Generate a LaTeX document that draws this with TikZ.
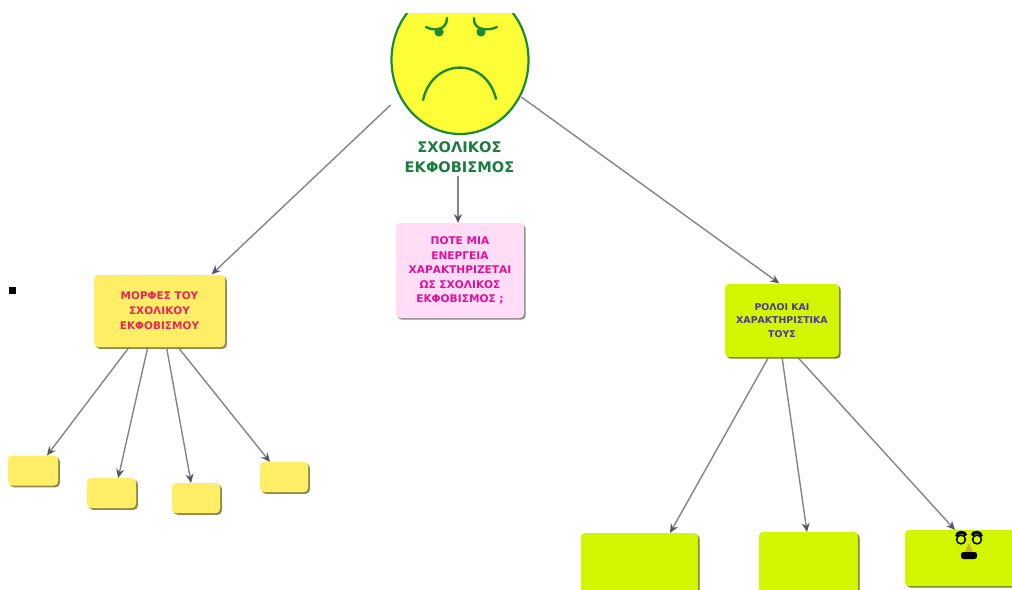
\documentclass[tikz,border=0pt]{standalone}
\usepackage{fontspec}
\setmainfont{DejaVu Sans}
\usetikzlibrary{arrows.meta,shadows,shapes.geometric}
\definecolor{conncol}{HTML}{858585}
\definecolor{tipcol}{HTML}{55585F}
\definecolor{facegreen}{HTML}{1F8A35}
\definecolor{faceyellow}{HTML}{FFFF38}
\definecolor{labelgreen}{HTML}{1E7B3F}
\definecolor{yellowfill}{HTML}{FFEE66}
\definecolor{yellowshadow}{HTML}{8F8A50}
\definecolor{limefill}{HTML}{D2F500}
\definecolor{limeshadow}{HTML}{74822A}
\definecolor{pinkfill}{HTML}{FFDDF6}
\definecolor{pinkshadow}{HTML}{8E8A90}
\definecolor{crimsontext}{HTML}{E8265A}
\definecolor{magentatext}{HTML}{E0109A}
\definecolor{violettext}{HTML}{4A3AA0}
\tikzset{
  x=1pt,y=-1pt,
  boxbase/.style={rectangle,rounded corners=4pt,inner sep=0pt,outer sep=0pt,align=center,
    font=\fontsize{10.6}{14.5}\selectfont\bfseries},
  yellowbox/.style={boxbase,fill=yellowfill,
    general shadow={shadow xshift=1.8pt,shadow yshift=-1.8pt,fill=yellowshadow}},
  limebox/.style={boxbase,fill=limefill,
    general shadow={shadow xshift=1.6pt,shadow yshift=-1.6pt,fill=limeshadow}},
  pinkbox/.style={boxbase,fill=pinkfill,
    general shadow={shadow xshift=1.6pt,shadow yshift=-1.6pt,fill=pinkshadow}},
  conn/.style={draw=conncol,line width=1.4pt,
    -{Stealth[length=9pt,width=8pt,color=tipcol]}},
  facefeature/.style={draw=facegreen,line width=2.4pt,line cap=round},
}
\begin{document}
\begin{tikzpicture}
\clip (0,0) rectangle (1012,589);
\fill[white] (0,0) rectangle (1012,589);

% face, cut off at the top
\begin{scope}
  \clip (300,13) rectangle (620,200);
  \node[ellipse,draw=facegreen,line width=2.2pt,fill=faceyellow,minimum width=137pt,minimum height=148pt,
        inner sep=0pt,outer sep=0pt] (face) at (460,60) {};
\end{scope}
\draw[facefeature] (426,27) .. controls (433,31) and (447,31) .. (447,18);
\draw[facefeature] (497,27) .. controls (489,31) and (473,31) .. (474,18);
\fill[facegreen] (439,32) circle (4.6);
\fill[facegreen] (481,32) circle (4.6);
\draw[facefeature] (423,100) .. controls (433,57) and (486,57) .. (496,99);

\node[font=\fontsize{14.6}{20}\selectfont\bfseries,text=labelgreen,align=center,inner sep=0pt,outer sep=0pt]
  (lbl) at (459.5,157) {ΣΧΟΛΙΚΟΣ\\ΕΚΦΟΒΙΣΜΟΣ};

% boxes
\node[yellowbox,minimum width=131pt,minimum height=72pt,text=crimsontext,font=\fontsize{10.5}{15}\selectfont\bfseries] (mor) at (159.5,311) {ΜΟΡΦΕΣ ΤΟΥ\\ΣΧΟΛΙΚΟΥ\\ΕΚΦΟΒΙΣΜΟΥ};
\node[pinkbox,minimum width=128pt,minimum height=95pt,text=magentatext] (pote) at (460,270.5) {ΠΟΤΕ ΜΙΑ\\ΕΝΕΡΓΕΙΑ\\ΧΑΡΑΚΤΗΡΙΖΕΤΑΙ\\ΩΣ ΣΧΟΛΙΚΟΣ\\ΕΚΦΟΒΙΣΜΟΣ ;};
\node[limebox,minimum width=114pt,minimum height=73pt,text=violettext,font=\fontsize{9.4}{13.5}\selectfont\bfseries] (rol) at (782,320.5) {ΡΟΛΟΙ ΚΑΙ\\ΧΑΡΑΚΤΗΡΙΣΤΙΚΑ\\ΤΟΥΣ};

\node[yellowbox,minimum width=50pt,minimum height=30pt] (a) at (33,470.5) {};
\node[yellowbox,minimum width=49pt,minimum height=30pt] (b) at (111.5,493) {};
\node[yellowbox,minimum width=48pt,minimum height=30pt] (c) at (196,498) {};
\node[yellowbox,minimum width=48pt,minimum height=30pt] (d) at (284,477) {};

\node[limebox,minimum width=117pt,minimum height=87pt] (e) at (639.5,576.5) {};
\node[limebox,minimum width=99pt,minimum height=88pt] (f) at (808.5,576) {};
\node[limebox,minimum width=125pt,minimum height=56pt] (g) at (967.5,558) {};

% small black square
\node[rectangle,fill=black,minimum size=7pt,inner sep=0pt,outer sep=0pt] (dot) at (12.5,290.5) {};

% connectors
\draw[conn,shorten <=13pt,shorten >=1pt] (face.211) -- (mor.35);
\draw[conn,shorten <=2pt,shorten >=1pt] (face.-31.5) -- (rol.93);
\draw[conn,shorten <=3pt] ([xshift=-1.5pt]lbl.south) -- ([xshift=-1.5pt]lbl.south |- pote.north);
\draw[conn] (mor.230.7) -- (a.47);
\draw[conn] (mor.252.3) -- (b.66.6);
\draw[conn] (mor.281.8) -- (c.108.4);
\draw[conn] (mor.297.2) -- (d.133);
\draw[conn] (rol.250.4) -- (e.55.9);
\draw[conn] (rol.270) -- (f.92);
\draw[conn] (rol.293.7) -- (g.114);

% glasses and moustache icon
\fill[brown!55!limefill] (969,543) -- (964.5,553) -- (973.5,553) -- cycle;
\draw[black,line width=1.5pt,fill=limefill!70!yellow] (961,539.5) circle (4.4);
\draw[black,line width=1.5pt,fill=limefill!70!yellow] (977,539.5) circle (4.4);
\draw[black,line width=3pt] (956.5,536.5) .. controls (957,531) and (965,531) .. (966,535.5);
\draw[black,line width=3pt] (972,535.5) .. controls (973,531) and (981,531) .. (981.5,536.5);
\fill[black,rounded corners=2.5pt] (961,552) rectangle (977,559);
\end{tikzpicture}
\end{document}
